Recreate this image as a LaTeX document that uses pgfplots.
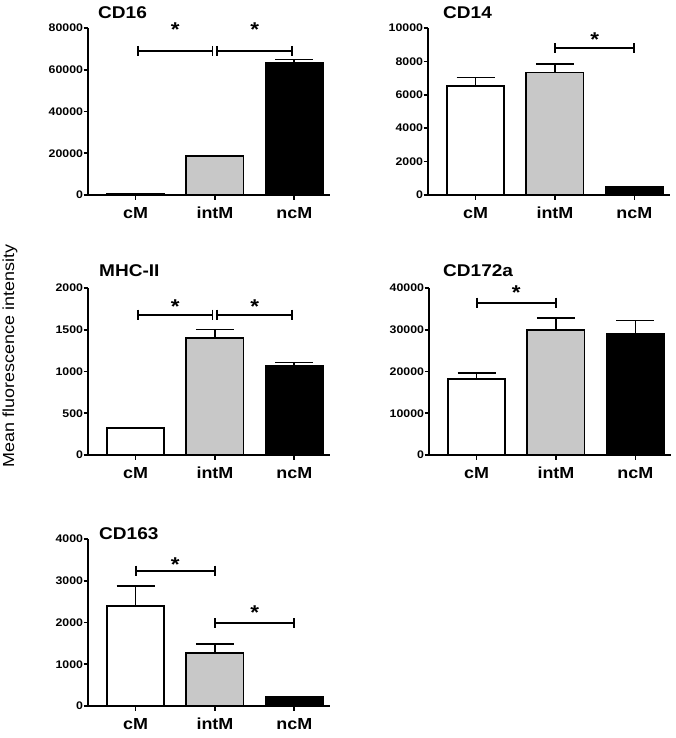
\documentclass[border=0pt]{standalone}
\usepackage{pgfplots}
\pgfplotsset{compat=1.18}
\usepackage{fontspec}
\setmainfont{Liberation Sans}[FakeStretch=1.12]
\definecolor{barg}{RGB}{200,200,200}

\pgfplotsset{
 panel/.style={
  scale only axis, width=242pt, height=167pt,
  xmin=-0.6, xmax=2.45, ymin=0,
  axis x line*=bottom, axis y line*=left,
  axis line style={line width=1.8pt},
  xtick={0,1,2}, xticklabels={cM,intM,ncM},
  tick style={line width=1.6pt, black},
  major tick length=4.5pt, tick align=outside,
  xticklabel style={font=\fontsize{16}{16}\selectfont\bfseries, yshift=-4pt},
  yticklabel style={font=\fontsize{11}{11}\selectfont\bfseries, xshift=3pt, /pgf/number format/fixed, /pgf/number format/1000 sep={}},
  /pgf/number format/assume math mode=true,
  scaled y ticks=false,
  clip=false,
 },
 mfbar/.style={ybar, bar width=0.72, bar shift=0pt, draw=black, line width=1.8pt, fill=#1, mark=none,
   error bars/y dir=plus, error bars/y explicit, error bars/error mark=|,
   error bars/error bar style={line width=1.6pt, black, solid},
   error bars/error mark options={line width=1.6pt, mark size=19pt, black}},
 sig/.style={black, line width=1.8pt, mark=|, mark size=5pt, mark options={line width=1.8pt, solid}},
}
\tikzset{sigstar/.style={anchor=north, inner sep=0pt, font=\fontsize{20}{20}\selectfont\bfseries}}

\begin{document}
\begin{tikzpicture}
\useasboundingbox (0pt,0pt) rectangle (675pt,-738pt);

% CD16
\begin{axis}[panel, at={(88pt,-195pt)}, anchor=south west, ymax=80000, ytick={0,20000,40000,60000,80000}]
\addplot[mfbar=white] coordinates {(0,700) +- (0,50)};
\addplot[mfbar=barg] coordinates {(1,18500) +- (0,200)};
\addplot[mfbar=black] coordinates {(2,63500) +- (0,1500)};
\addplot[sig] coordinates {(0.03,69000) (0.97,69000)};
\addplot[sig] coordinates {(1.03,69000) (1.97,69000)};
\node[sigstar] at (axis cs:0.5,82400) {*};
\node[sigstar] at (axis cs:1.5,82400) {*};
\end{axis}

% CD14
\begin{axis}[panel, at={(428pt,-195pt)}, anchor=south west, ymax=10000, ytick={0,2000,4000,6000,8000,10000}]
\addplot[mfbar=white] coordinates {(0,6530) +- (0,500)};
\addplot[mfbar=barg] coordinates {(1,7330) +- (0,500)};
\addplot[mfbar=black] coordinates {(2,480) +- (0,20)};
\addplot[sig] coordinates {(1,8800) (2,8800)};
\node[sigstar] at (axis cs:1.5,9700) {*};
\end{axis}

% MHC-II
\begin{axis}[panel, at={(88pt,-455pt)}, anchor=south west, ymax=2000, ytick={0,500,1000,1500,2000}]
\addplot[mfbar=white] coordinates {(0,320) +- (0,8)};
\addplot[mfbar=barg] coordinates {(1,1400) +- (0,105)};
\addplot[mfbar=black] coordinates {(2,1070) +- (0,40)};
\addplot[sig] coordinates {(0.03,1680) (0.97,1680)};
\addplot[sig] coordinates {(1.03,1680) (1.97,1680)};
\node[sigstar] at (axis cs:0.5,1856) {*};
\node[sigstar] at (axis cs:1.5,1856) {*};
\end{axis}

% CD172a
\begin{axis}[panel, at={(429pt,-455pt)}, anchor=south west, ymax=40000, ytick={0,10000,20000,30000,40000}]
\addplot[mfbar=white] coordinates {(0,18200) +- (0,1500)};
\addplot[mfbar=barg] coordinates {(1,30000) +- (0,2800)};
\addplot[mfbar=black] coordinates {(2,29100) +- (0,3100)};
\addplot[sig] coordinates {(0,36500) (1,36500)};
\node[sigstar] at (axis cs:0.5,40480) {*};
\end{axis}

% CD163
\begin{axis}[panel, at={(88pt,-706pt)}, anchor=south west, ymax=4000, ytick={0,1000,2000,3000,4000}]
\addplot[mfbar=white] coordinates {(0,2400) +- (0,470)};
\addplot[mfbar=barg] coordinates {(1,1265) +- (0,225)};
\addplot[mfbar=black] coordinates {(2,220) +- (0,10)};
\addplot[sig] coordinates {(0,3240) (1,3240)};
\addplot[sig] coordinates {(1,1985) (2,1985)};
\node[sigstar] at (axis cs:0.5,3568) {*};
\node[sigstar] at (axis cs:1.5,2400) {*};
\end{axis}

% titles
\begin{scope}[every node/.style={anchor=base west, inner sep=0pt, font=\fontsize{17}{17}\selectfont\bfseries}]
\node at (98pt,-19pt) {CD16};
\node at (443pt,-19pt) {CD14};
\node at (99pt,-276pt) {MHC-II};
\node at (443pt,-276pt) {CD172a};
\node at (99pt,-539pt) {CD163};
\end{scope}

\node[rotate=90, inner sep=0pt, font=\fontsize{16}{16}\selectfont] at (10pt,-356pt) {Mean fluorescence intensity};
\end{tikzpicture}
\end{document}
